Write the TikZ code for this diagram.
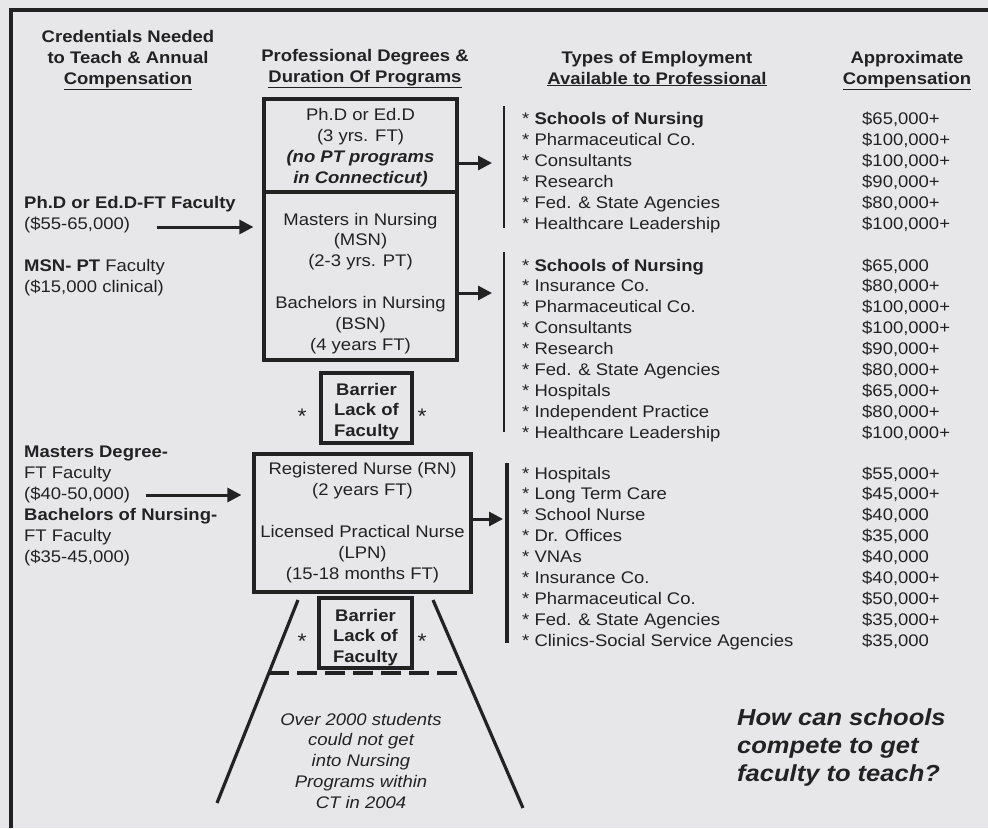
\documentclass[tikz,border=0pt]{standalone}
\usepackage{fontspec}
\setmainfont{Liberation Sans}[FakeStretch=1.1]
\usetikzlibrary{arrows.meta}
\definecolor{bg}{RGB}{231,231,233}
\definecolor{ink}{RGB}{34,34,34}
\newcommand\fs{\fontsize{16.8}{21}\selectfont}
\newcommand\qfs{\fontsize{23.2}{28}\selectfont}
\newcommand\afs{\fontsize{21}{21}\selectfont}
\begin{document}
\begin{tikzpicture}[x=1pt,y=-1pt,
  t/.style={inner sep=0pt, text=ink, font=\fs, anchor=base},
  tl/.style={t, anchor=base west},
  hd/.style={t, font=\fs\bfseries},
  boxn/.style={draw=ink, line width=3.2pt, inner sep=0pt},
  arr/.style={draw=ink, line width=3pt, -{Triangle[length=14pt,width=14pt]}},
  thinbar/.style={draw=ink, line width=1.6pt},
  thickbar/.style={draw=ink, line width=3.2pt},
  trap/.style={draw=ink, line width=3.2pt}]
\fill[bg] (0,0) rectangle (988,828);
\useasboundingbox (0,0) rectangle (988,828);
% frame
\draw[ink, line width=3.2pt] (11,828) -- (11,10) -- (988,10);

% headers
\node[hd] (h1a) at (128,42) {Credentials Needed};
\node[hd] (h1b) at (128,63) {to Teach \& Annual};
\node[hd] (h1c) at (128,84) {\underline{Compensation}};
\node[hd] (h2a) at (365,61) {Professional Degrees \&};
\node[hd] (h2b) at (365,82) {\underline{Duration Of Programs}};
\node[hd] (h3a) at (657,63) {Types of Employment};
\node[hd] (h3b) at (657,84) {\underline{Available to Professional}};
\node[hd] (h4a) at (907,63) {Approximate};
\node[hd] (h4b) at (907,84) {\underline{Compensation}};

% degree boxes
\node[boxn, minimum width=193pt, minimum height=93pt] (phd) at (360.5,145.5) {};
\node[boxn, minimum width=193pt, minimum height=168pt] (msn) at (360.5,276) {};
\node[boxn, minimum width=217pt, minimum height=138pt] (rn) at (362.5,523) {};
\node[boxn, minimum width=91pt, minimum height=70pt] (bar1) at (366.5,408) {};
\node[boxn, minimum width=93pt, minimum height=70pt] (bar2) at (365.5,633) {};

\foreach \s [count=\i] in {{Ph.D or Ed.D},{(3 yrs. FT)},{\bfseries\itshape (no PT programs},{\bfseries\itshape in Connecticut)}}
  \node[t] (phdt\i) at (360.5,{120+21*(\i-1)}) {\s};
\foreach \s [count=\i] in {{Masters in Nursing},{(MSN)},{(2-3 yrs. PT)}}
  \node[t] (msnt\i) at (360.5,{225+20.6*(\i-1)}) {\s};
\foreach \s [count=\i] in {{Bachelors in Nursing},{(BSN)},{(4 years FT)}}
  \node[t] (bsnt\i) at (360.5,{308+21*(\i-1)}) {\s};
\foreach \s [count=\i] in {{Registered Nurse (RN)},{(2 years FT)}}
  \node[t] (rnt\i) at (362.5,{474+21*(\i-1)}) {\s};
\foreach \s [count=\i] in {{Licensed Practical Nurse},{(LPN)},{(15-18 months FT)}}
  \node[t] (lpnt\i) at (362.5,{537+21*(\i-1)}) {\s};
\foreach \s [count=\i] in {Barrier,{Lack of},Faculty}
  \node[t, font=\fs\bfseries] (b1t\i) at (366.5,{395+20.5*(\i-1)}) {\s};
\foreach \s [count=\i] in {Barrier,{Lack of},Faculty}
  \node[t, font=\fs\bfseries] (b2t\i) at (365.5,{621+20.5*(\i-1)}) {\s};
\node[t, font=\afs] (s1) at (302,423) {*};
\node[t, font=\afs] (s2) at (422,423) {*};
\node[t, font=\afs] (s3) at (302,648) {*};
\node[t, font=\afs] (s4) at (422,648) {*};

% funnel
\coordinate (tl1) at (298,600);
\coordinate (tl2) at (217,803);
\coordinate (tr1) at (433,600);
\coordinate (tr2) at (523,808);
\coordinate (dl) at (269,673);
\coordinate (dr) at (465,673);
\draw[trap] (tl1) -- (tl2);
\draw[trap] (tr1) -- (tr2);
\draw[trap, dash pattern=on 20pt off 8pt] (dl) -- (dr);
\foreach \s [count=\i] in {{Over 2000 students},{could not get},{into Nursing},{Programs within},{CT in 2004}}
  \node[t, font=\fs\itshape] (ov\i) at (361,{725+20.8*(\i-1)}) {\s};

% question
\node[tl, font=\qfs\bfseries\itshape] (q1) at (737,725) {How can schools};
\node[tl, font=\qfs\bfseries\itshape] (q2) at (737,753) {compete to get};
\node[tl, font=\qfs\bfseries\itshape] (q3) at (737,781) {faculty to teach?};

% left column
\node[tl, font=\fs\bfseries] (c1) at (24,208) {Ph.D or Ed.D-FT Faculty};
\node[tl] (c2) at (24,229) {(\$55-65,000)};
\node[tl] (c3) at (24,271) {\textbf{MSN- PT} Faculty};
\node[tl] (c4) at (24,292) {(\$15,000 clinical)};
\node[tl, font=\fs\bfseries] (c5) at (24,457) {Masters Degree-};
\node[tl] (c6) at (24,478) {FT Faculty};
\node[tl] (c7) at (24,499) {(\$40-50,000)};
\node[tl, font=\fs\bfseries] (c8) at (24,520) {Bachelors of Nursing-};
\node[tl] (c9) at (24,541) {FT Faculty};
\node[tl] (c10) at (24,562) {(\$35-45,000)};
\coordinate (la1) at (157,227);
\coordinate (la2) at (146,495);
\draw[arr] (la1) -- ([xshift=-9pt]la1 -| msn.west);
\draw[arr] (la2) -- ([xshift=-11pt]la2 -| rn.west);

% right arrows and bars
\coordinate (a1) at (492,163);
\coordinate (a2) at (492,293);
\coordinate (a3) at (503,519);
\draw[arr] (phd.east |- a1) -- (a1);
\draw[arr] (msn.east |- a2) -- (a2);
\draw[arr] (rn.east |- a3) -- (a3);
\coordinate (k1t) at (504,106); \coordinate (k1b) at (504,228);
\coordinate (k2t) at (504,252); \coordinate (k2b) at (504,432);
\coordinate (k3t) at (507,463); \coordinate (k3b) at (507,643);
\draw[thinbar] (k1t) -- (k1b);
\draw[thinbar] (k2t) -- (k2b);
\draw[thickbar] (k3t) -- (k3b);

% lists
\foreach \a/\b [count=\i] in {{\textbf{Schools of Nursing}}/{\$65,000+},
  {Pharmaceutical Co.}/{\$100,000+},
  {Consultants}/{\$100,000+},
  {Research}/{\$90,000+},
  {Fed. \& State Agencies}/{\$80,000+},
  {Healthcare Leadership}/{\$100,000+}}
{
  \node[tl] (ea\i) at (522,{124.5+20.9*(\i-1)}) {* \a};
  \node[tl] (pa\i) at (862,{124.5+20.9*(\i-1)}) {\b};
}
\foreach \a/\b [count=\i] in {{\textbf{Schools of Nursing}}/{\$65,000},
  {Insurance Co.}/{\$80,000+},
  {Pharmaceutical Co.}/{\$100,000+},
  {Consultants}/{\$100,000+},
  {Research}/{\$90,000+},
  {Fed. \& State Agencies}/{\$80,000+},
  {Hospitals}/{\$65,000+},
  {Independent Practice}/{\$80,000+},
  {Healthcare Leadership}/{\$100,000+}}
{
  \node[tl] (eb\i) at (522,{271+20.9*(\i-1)}) {* \a};
  \node[tl] (pb\i) at (862,{271+20.9*(\i-1)}) {\b};
}
\foreach \a/\b [count=\i] in {{Hospitals}/{\$55,000+},
  {Long Term Care}/{\$45,000+},
  {School Nurse}/{\$40,000},
  {Dr. Offices}/{\$35,000},
  {VNAs}/{\$40,000},
  {Insurance Co.}/{\$40,000+},
  {Pharmaceutical Co.}/{\$50,000+},
  {Fed. \& State Agencies}/{\$35,000+},
  {Clinics-Social Service Agencies}/{\$35,000}}
{
  \node[tl] (ec\i) at (522,{479+20.9*(\i-1)}) {* \a};
  \node[tl] (pc\i) at (862,{479+20.9*(\i-1)}) {\b};
}
\end{tikzpicture}
\end{document}
